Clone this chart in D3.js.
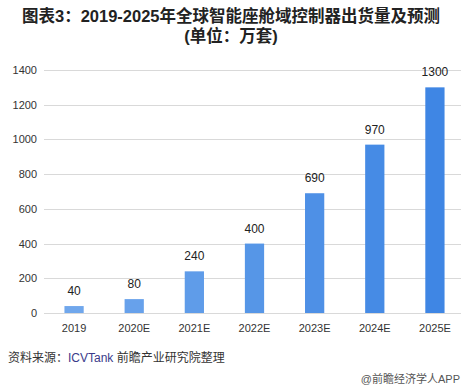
<!DOCTYPE html>
<html><head><meta charset="utf-8">
<script src="https://cdn.jsdelivr.net/npm/d3@7"></script>
<style>body{margin:0;background:#fff}svg{display:block;font-family:"Liberation Sans","Noto Sans CJK SC",sans-serif}</style>
</head><body><svg id="c" width="462" height="391"></svg>
<script>
const categories = ["2019","2020E","2021E","2022E","2023E","2024E","2025E"];
const values = [40,80,240,400,690,970,1300];
const yTicks = [0,200,400,600,800,1000,1200,1400];
const barColors = ["#70a7ec","#67a1eb","#5f9ce9","#5696e7","#4e90e6","#468be5","#3f86e4"];

const svg = d3.select("#c");
const x = d3.scaleBand().domain(categories).range([44,465]).paddingInner(0.68).paddingOuter(0.34);
const y = d3.scaleLinear().domain([0,1400]).range([313,70]);

svg.append("text").attr("x",231).attr("y",22).attr("text-anchor","middle")
  .attr("font-size",16.5).attr("font-weight","bold").attr("fill","#222")
  .text("图表3：2019-2025年全球智能座舱域控制器出货量及预测");
svg.append("text").attr("x",231).attr("y",42).attr("text-anchor","middle")
  .attr("font-size",16.5).attr("font-weight","bold").attr("fill","#222")
  .text("(单位：万套)");

const g = svg.append("g");
g.selectAll("line.grid").data(yTicks).join("line").attr("class","grid")
  .attr("x1",44).attr("x2",461).attr("y1",d=>Math.round(y(d))+0.5).attr("y2",d=>Math.round(y(d))+0.5)
  .attr("stroke","#d9d9d9").attr("stroke-width",1);

const yAxis = d3.axisLeft(y).tickValues(yTicks).tickFormat(d3.format("d")).tickSize(0).tickPadding(0);
svg.append("g").attr("transform","translate(37,0)").call(yAxis)
  .call(s=>s.select(".domain").remove())
  .call(s=>s.selectAll("text").attr("font-size",11).attr("fill","#333").attr("font-family","Liberation Sans, sans-serif"));

g.selectAll("rect").data(values).join("rect")
  .attr("x",(d,i)=>x(categories[i])).attr("width",x.bandwidth())
  .attr("y",d=>y(d)).attr("height",d=>y(0)-y(d))
  .attr("fill",(d,i)=>barColors[i]);

g.selectAll("text.lbl").data(values).join("text").attr("class","lbl")
  .attr("x",(d,i)=>x(categories[i])+x.bandwidth()/2).attr("y",d=>y(d)-11)
  .attr("text-anchor","middle").attr("font-size",12).attr("fill","#222").text(d=>d);

const xAxis = d3.axisBottom(x).tickSize(0).tickPadding(0);
svg.append("g").attr("transform","translate(0,332)").call(xAxis)
  .call(s=>s.select(".domain").remove())
  .call(s=>s.selectAll("text").attr("font-size",11).attr("fill","#333").attr("dy","0").attr("font-family","Liberation Sans, sans-serif"));

const src = svg.append("text").attr("x",8).attr("y",362).attr("font-size",12).attr("fill","#333");
src.append("tspan").text("资料来源：");
src.append("tspan").attr("fill","#3a3a8a").text("ICVTank");
src.append("tspan").text(" 前瞻产业研究院整理");
svg.append("text").attr("x",460).attr("y",383).attr("text-anchor","end").attr("font-size",11).attr("fill","#555").text("@前瞻经济学人APP");
</script></body></html>
